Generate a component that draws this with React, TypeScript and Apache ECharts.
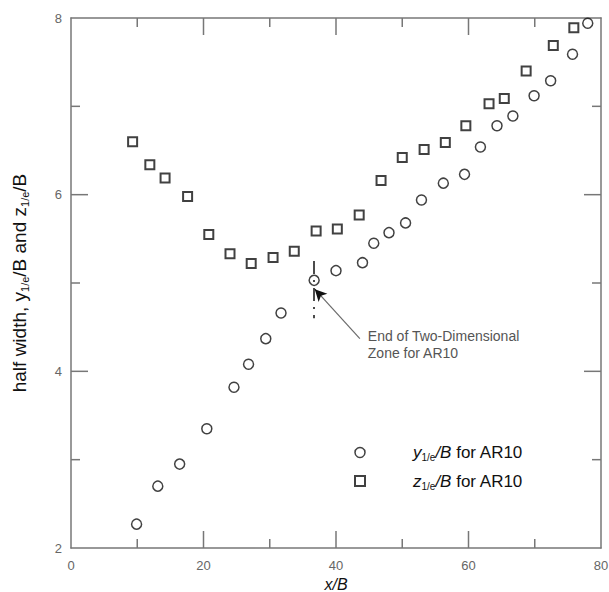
import React, { useEffect, useRef } from "react";
import * as echarts from "echarts";

const xCircle = [9.9, 13.1, 16.4, 20.5, 24.6, 26.8, 29.4, 31.7, 36.7, 40.0, 44.0, 45.7, 48.0, 50.5, 52.9, 56.2, 59.4, 61.8, 64.3, 66.7, 69.9, 72.4, 75.7, 78.0];
const yCircle = [2.27, 2.70, 2.95, 3.35, 3.82, 4.08, 4.37, 4.66, 5.03, 5.14, 5.23, 5.45, 5.57, 5.68, 5.94, 6.13, 6.23, 6.54, 6.78, 6.89, 7.12, 7.29, 7.59, 7.94];

const xSquare = [9.3, 11.9, 14.2, 17.6, 20.8, 24.0, 27.2, 30.5, 33.7, 37.0, 40.2, 43.5, 46.8, 50.0, 53.3, 56.5, 59.6, 63.1, 65.4, 68.7, 72.8, 75.9];
const ySquare = [6.60, 6.34, 6.19, 5.98, 5.55, 5.33, 5.22, 5.29, 5.36, 5.59, 5.61, 5.77, 6.16, 6.42, 6.51, 6.59, 6.78, 7.03, 7.09, 7.40, 7.69, 7.89];

const seriesNames = ["y1/e/B for AR10", "z1/e/B for AR10"];
const xRange = [0, 80];
const yRange = [2, 8];
const xMajorTicks = [20, 40, 60];
const xMinorTicks = [10, 30, 50, 70];
const yMajorTicks = [4, 6];
const yMinorTicks = [3, 5, 7];

const endLineX = 36.7;
const endLineY = [5.25, 4.6];
const arrowFrom = [43.6, 4.37];
const arrowHeadFrom = [37.8, 4.85];
const arrowTo = [36.8, 4.93];
const noteAt = [44.8, 4.3];
const noteText = "End of Two-Dimensional\nZone for AR10";

const FONT = "'Liberation Sans', Arial, Helvetica, sans-serif";
const AXIS_GRAY = "#777777";
const MAJOR_LEN = 17;
const MINOR_LEN = 9;
const TICK_W = 1.5;

export default function App() {
  const ref = useRef<HTMLDivElement>(null);

  useEffect(() => {
    if (!ref.current) return;
    const chart = echarts.init(ref.current, undefined, { renderer: "svg" });

    const circleData = xCircle.map((x, i) => [x, yCircle[i]]);
    const squareData = xSquare.map((x, i) => [x, ySquare[i]]);

    // Tick marks as thin bar symbols anchored on the frame through the axis scales.
    const tickData: any[] = [];
    const addX = (v: number, len: number) => {
      tickData.push({ value: [v, yRange[0]], symbolSize: [TICK_W, len], symbolOffset: [0, -len / 2] });
      tickData.push({ value: [v, yRange[1]], symbolSize: [TICK_W, len], symbolOffset: [0, len / 2] });
    };
    const addY = (v: number, len: number) => {
      tickData.push({ value: [xRange[0], v], symbolSize: [len, TICK_W], symbolOffset: [len / 2, 0] });
      tickData.push({ value: [xRange[1], v], symbolSize: [len, TICK_W], symbolOffset: [-len / 2, 0] });
    };
    xMajorTicks.forEach((v) => addX(v, MAJOR_LEN));
    xMinorTicks.forEach((v) => addX(v, MINOR_LEN));
    yMajorTicks.forEach((v) => addY(v, MAJOR_LEN));
    yMinorTicks.forEach((v) => addY(v, MINOR_LEN));

    const axisLine = { show: true, onZero: false, lineStyle: { color: AXIS_GRAY, width: 1.5 } };

    chart.setOption({
      animation: false,
      backgroundColor: "#fff",
      textStyle: { fontFamily: FONT },
      grid: { left: 71, right: 8, top: 18, bottom: 44, containLabel: false, outerBoundsMode: "none" },
      xAxis: [
        {
          type: "value",
          min: xRange[0],
          max: xRange[1],
          interval: 20,
          position: "bottom",
          splitLine: { show: false },
          axisLine,
          axisTick: { show: false },
          axisLabel: { show: true, color: "#666", fontSize: 13, fontFamily: FONT, margin: 11 },
          name: "{i|x}{i|/B}",
          nameLocation: "middle",
          nameGap: 29,
          nameTextStyle: {
            rich: { i: { fontStyle: "italic", fontSize: 16, fontFamily: FONT, color: "#111", lineHeight: 14 } },
          },
        },
        {
          type: "value",
          min: xRange[0],
          max: xRange[1],
          interval: 20,
          position: "top",
          splitLine: { show: false },
          axisLine,
          axisTick: { show: false },
          axisLabel: { show: false },
        },
      ],
      yAxis: [
        {
          type: "value",
          min: yRange[0],
          max: yRange[1],
          interval: 2,
          position: "left",
          splitLine: { show: false },
          axisLine,
          axisTick: { show: false },
          axisLabel: { show: true, color: "#666", fontSize: 13, fontFamily: FONT, margin: 9 },
          name: "{n|half width, }{i|y}{s|1/e}{n|/B and }{i|z}{s|1/e}{n|/B}",
          nameLocation: "middle",
          nameGap: 41,
          nameTextStyle: {
            rich: {
              i: { fontSize: 19, fontFamily: FONT, color: "#111", lineHeight: 22 },
              n: { fontSize: 19, fontFamily: FONT, color: "#111", lineHeight: 22 },
              s: { fontSize: 11, fontFamily: FONT, color: "#111", lineHeight: 10, verticalAlign: "bottom" },
            },
          },
        },
        {
          type: "value",
          min: yRange[0],
          max: yRange[1],
          interval: 2,
          position: "right",
          splitLine: { show: false },
          axisLine,
          axisTick: { show: false },
          axisLabel: { show: false },
        },
      ],
      legend: {
        left: 349,
        top: 439,
        orient: "vertical",
        itemWidth: 10,
        itemHeight: 10,
        itemGap: 10,
        selectedMode: false,
        data: [
          { name: seriesNames[0], icon: "circle", itemStyle: { color: "#fff", borderColor: "#111", borderWidth: 1.5 } },
          { name: seriesNames[1], icon: "rect", itemStyle: { color: "#fff", borderColor: "#111", borderWidth: 2 } },
        ],
        formatter: (name: string) =>
          name === seriesNames[0]
            ? "{p|}{i|y}{s|1/e}{i|/B}{n| for AR10}"
            : "{p|}{i|z}{s|1/e}{i|/B}{n| for AR10}",
        textStyle: {
          rich: {
            p: { width: 43, lineHeight: 20 },
            i: { fontStyle: "italic", fontSize: 17, fontFamily: FONT, color: "#111", lineHeight: 20 },
            n: { fontSize: 17, fontFamily: FONT, color: "#111", lineHeight: 20 },
            s: { fontSize: 10, fontFamily: FONT, color: "#111", lineHeight: 9, verticalAlign: "bottom" },
          },
        },
      },
      series: [
        {
          name: "frame ticks",
          type: "scatter",
          xAxisIndex: 0,
          yAxisIndex: 0,
          symbol: "rect",
          silent: true,
          clip: false,
          z: 5,
          itemStyle: { color: AXIS_GRAY, borderWidth: 0, opacity: 1 },
          emphasis: { disabled: true },
          data: tickData,
        },
        {
          name: seriesNames[0],
          type: "scatter",
          xAxisIndex: 0,
          yAxisIndex: 0,
          symbol: "circle",
          symbolSize: 10,
          itemStyle: { color: "rgba(255,255,255,0)", borderColor: "#111", borderWidth: 1.5 },
          data: circleData,
          z: 3,
          markLine: {
            silent: true,
            symbol: ["none", "none"],
            label: { show: false },
            data: [
              [
                { coord: [endLineX, endLineY[0]], lineStyle: { color: "#111", width: 1.5, type: [13, 6, 2, 6] } },
                { coord: [endLineX, endLineY[1]] },
              ],
              [
                { coord: arrowFrom, symbol: "none", lineStyle: { color: "#6a6a6a", width: 1.2, type: "solid" } },
                { coord: arrowTo, symbol: "none" },
              ],
              [
                { coord: arrowHeadFrom, symbol: "none", lineStyle: { color: "#111", width: 1, type: "solid" } },
                { coord: arrowTo, symbol: "arrow", symbolSize: [9, 12] },
              ],
            ],
          },
          markPoint: {
            silent: true,
            symbol: "circle",
            symbolSize: 0,
            data: [
              {
                coord: noteAt,
                label: {
                  show: true,
                  position: "right",
                  distance: 0,
                  formatter: noteText,
                  color: "#555",
                  fontSize: 14,
                  lineHeight: 17,
                  fontFamily: FONT,
                  align: "left",
                },
              },
            ],
          },
        },
        {
          name: seriesNames[1],
          type: "scatter",
          xAxisIndex: 0,
          yAxisIndex: 0,
          symbol: "rect",
          symbolSize: 9,
          itemStyle: { color: "rgba(255,255,255,0)", borderColor: "#111", borderWidth: 2 },
          data: squareData,
          z: 3,
        },
      ],
    });

    return () => chart.dispose();
  }, []);

  return (
    <div
      ref={ref}
      style={{ position: "fixed", left: 0, top: 0, width: 609, height: 592, background: "#fff" }}
    />
  );
}
